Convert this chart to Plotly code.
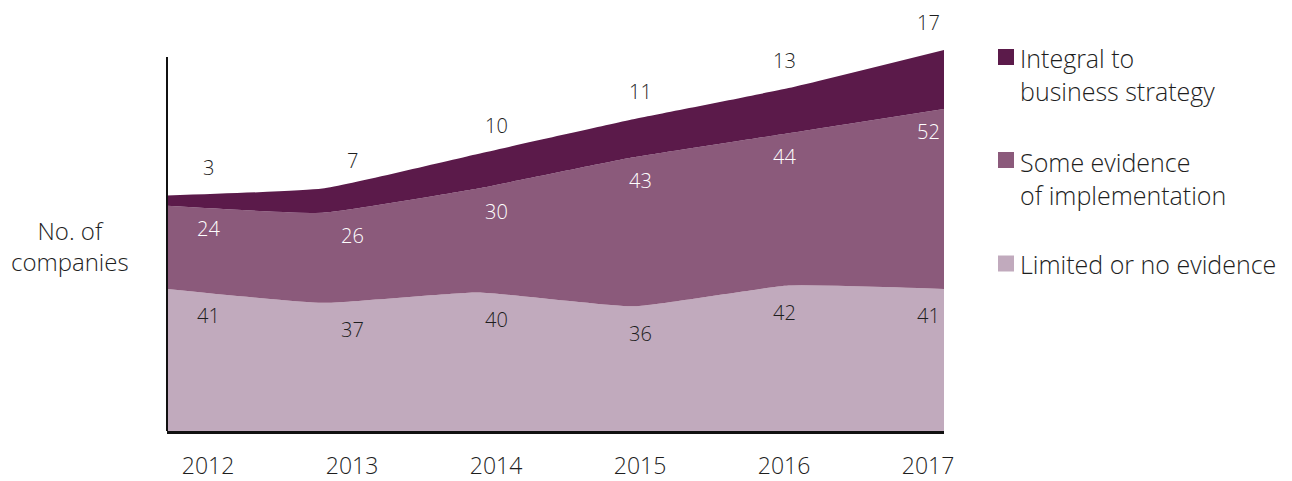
import numpy as np
import plotly.graph_objects as go

years = [2012, 2013, 2014, 2015, 2016, 2017]
limited = [41, 37, 40, 36, 42, 41]
some = [24, 26, 30, 43, 44, 52]
integral = [3, 7, 10, 11, 13, 17]

series_names = ["Limited or no evidence", "Some evidence<br>of implementation", "Integral to<br>business strategy"]
colors = ["#C1AABD", "#8B5A7B", "#5B1A4A"]

FONT = "Open Sans"
TXT = "#1e1e1e"

fig = go.Figure()
for vals, name, col in zip([limited, some, integral], series_names, colors):
    fig.add_trace(go.Scatter(
        x=years, y=vals, stackgroup="one", mode="lines",
        line=dict(width=0, shape="spline", smoothing=0.4),
        fillcolor=col, name=name, hoverinfo="skip", showlegend=False,
    ))

# dummy trace on x2 to activate the axis
fig.add_trace(go.Scatter(x=years, y=[None]*len(years), xaxis="x2", yaxis="y",
                         mode="markers", showlegend=False, hoverinfo="skip"))

lim = np.array(limited)
cum2 = lim + np.array(some)
cum3 = cum2 + np.array(integral)

LBL = 20
ann = []
for i, yr in enumerate(years):
    ann.append(dict(x=yr, y=cum3[i], xref="x2", yref="y", text=str(integral[i]),
                    showarrow=False, yshift=28, font=dict(family=FONT, size=LBL, color=TXT, weight=300)))
    ann.append(dict(x=yr, y=cum2[i], xref="x2", yref="y", text=str(some[i]),
                    showarrow=False, yshift=-23, font=dict(family=FONT, size=LBL, color="white", weight=300)))
    ann.append(dict(x=yr, y=lim[i], xref="x2", yref="y", text=str(limited[i]),
                    showarrow=False, yshift=-27, font=dict(family=FONT, size=LBL, color=TXT, weight=300)))

W, H = 1292, 481
L, R, T, B = 167, 348, 50, 50
pw, ph = W - L - R, H - T - B

def px2paper_x(px):
    return (px - L) / pw

def px2paper_y(py):
    return (H - B - py) / ph

# y-axis title
ann.append(dict(x=px2paper_x(70), y=px2paper_y(246), xref="paper", yref="paper", text="No. of<br>companies",
                showarrow=False, align="center", xanchor="center", yanchor="middle",
                font=dict(family=FONT, size=24, color=TXT, weight=300)))

# custom legend
shapes = []
legend_items = [(series_names[2], colors[2], 57, 74.5), (series_names[1], colors[1], 160, 178.5),
                (series_names[0], colors[0], 263.5, 263.5)]

for name, col, sq_c, txt_c in legend_items:
    shapes.append(dict(type="rect", xref="paper", yref="paper",
                       x0=px2paper_x(998), x1=px2paper_x(1014),
                       y0=px2paper_y(sq_c + 8), y1=px2paper_y(sq_c - 8),
                       fillcolor=col, line=dict(width=0)))
    ann.append(dict(x=px2paper_x(1018), y=px2paper_y(txt_c), xref="paper", yref="paper",
                    text=name, showarrow=False, xanchor="left", yanchor="middle", align="left",
                    font=dict(family=FONT, size=25, color=TXT, weight=300)))

# y-axis line
shapes.append(dict(type="line", xref="paper", yref="y", x0=0, x1=0, y0=0, y1=108,
                   line=dict(color="#111", width=2)))

fig.update_layout(
    width=W, height=H,
    margin=dict(l=L, r=R, t=T, b=B, autoexpand=False),
    plot_bgcolor="white", paper_bgcolor="white",
    xaxis=dict(range=[2012, 2017], showticklabels=False, showgrid=False, zeroline=False,
               showline=True, linecolor="#111", linewidth=3, ticks="", automargin=False),
    xaxis2=dict(range=[2012 - 0.285, 2017 + 0.111], overlaying="x", side="bottom",
                tickvals=years, ticktext=[str(y) for y in years], showgrid=False,
                zeroline=False, showline=False, ticks="", ticklabelstandoff=19, automargin=False,
                tickfont=dict(family=FONT, size=23, color=TXT, weight=300)),
    yaxis=dict(range=[0, 110], showticklabels=False, showgrid=False, zeroline=False,
               showline=False, ticks="", automargin=False),
    annotations=ann, shapes=shapes, showlegend=False,
)

fig.write_html("out.html")
